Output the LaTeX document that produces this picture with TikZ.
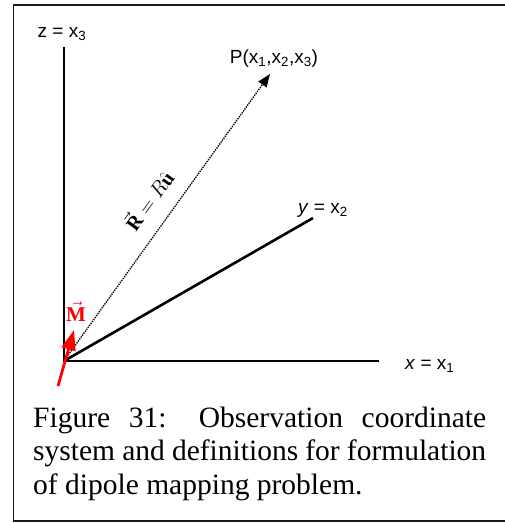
\documentclass[tikz,border=0pt]{standalone}
\usepackage{fontspec}
\setmainfont{Liberation Serif}
\setsansfont{Liberation Sans}
\usetikzlibrary{arrows.meta}
\begin{document}
\begin{tikzpicture}[x=1pt,y=-1pt,
  axis/.style={line width=2.6pt,black,line join=miter},
  framebox/.style={line width=1.6pt,black!90},
  axlabel/.style={font=\fontsize{19}{23}\selectfont\sffamily,inner sep=0pt},
  rvec/.style={line width=1.3pt,dash pattern=on 1.4pt off 1pt,-{Triangle[length=13pt,width=10pt]}},
  mvec/.style={red,line width=2.8pt,-{Triangle[length=20pt,width=14pt]}},
  captext/.style={font=\fontsize{29.5}{33.5}\selectfont\rmfamily,text width=453pt,align=justify,inner sep=0pt}]
\useasboundingbox (0,0) rectangle (505,523);
\draw[framebox] (512,5) -- (13.5,5) -- (13.5,521) -- (512,521);
\coordinate (O) at (64,361);
\coordinate (ztop) at (64,47);
\coordinate (xend) at (379,361);
\coordinate (yend) at (313,218);
\coordinate (P) at (270,74);
\coordinate (mtail) at (58,386);
\coordinate (mtip) at (74,330);
\draw[axis] (ztop) -- (O) -- (xend);
\draw[axis] (O) -- (yend);
\draw[rvec] (O) -- (P);
\draw[mvec] (mtail) -- (mtip);
\node[axlabel,anchor=base] (zl) at (62,37) {z = x\textsubscript{3}};
\node[axlabel,anchor=base] (pl) at (274,63) {P(x\textsubscript{1},x\textsubscript{2},x\textsubscript{3})};
\node[axlabel,anchor=base] (yl) at (323,213) {\textit{y} = x\textsubscript{2}};
\node[axlabel,anchor=base west] (xl) at (405,369) {\textit{x} = x\textsubscript{1}};
\node[red,anchor=base,inner sep=0pt,font=\fontsize{21}{24}\selectfont] (ml) at (76,321) {$\vec{\mathbf{M}}$};
\node[rotate=54.2,inner sep=0pt,font=\fontsize{20}{23}\selectfont] (rl) at (148,200) {$\vec{\mathbf{R}} = R\hat{\mathbf{u}}$};
\node[captext,anchor=base west] (cap) at (33,427) {\hyphenpenalty=10000 Figure 31: Observation coordinate\linebreak system and definitions for formulation\linebreak of dipole mapping problem.};
\end{tikzpicture}
\end{document}
